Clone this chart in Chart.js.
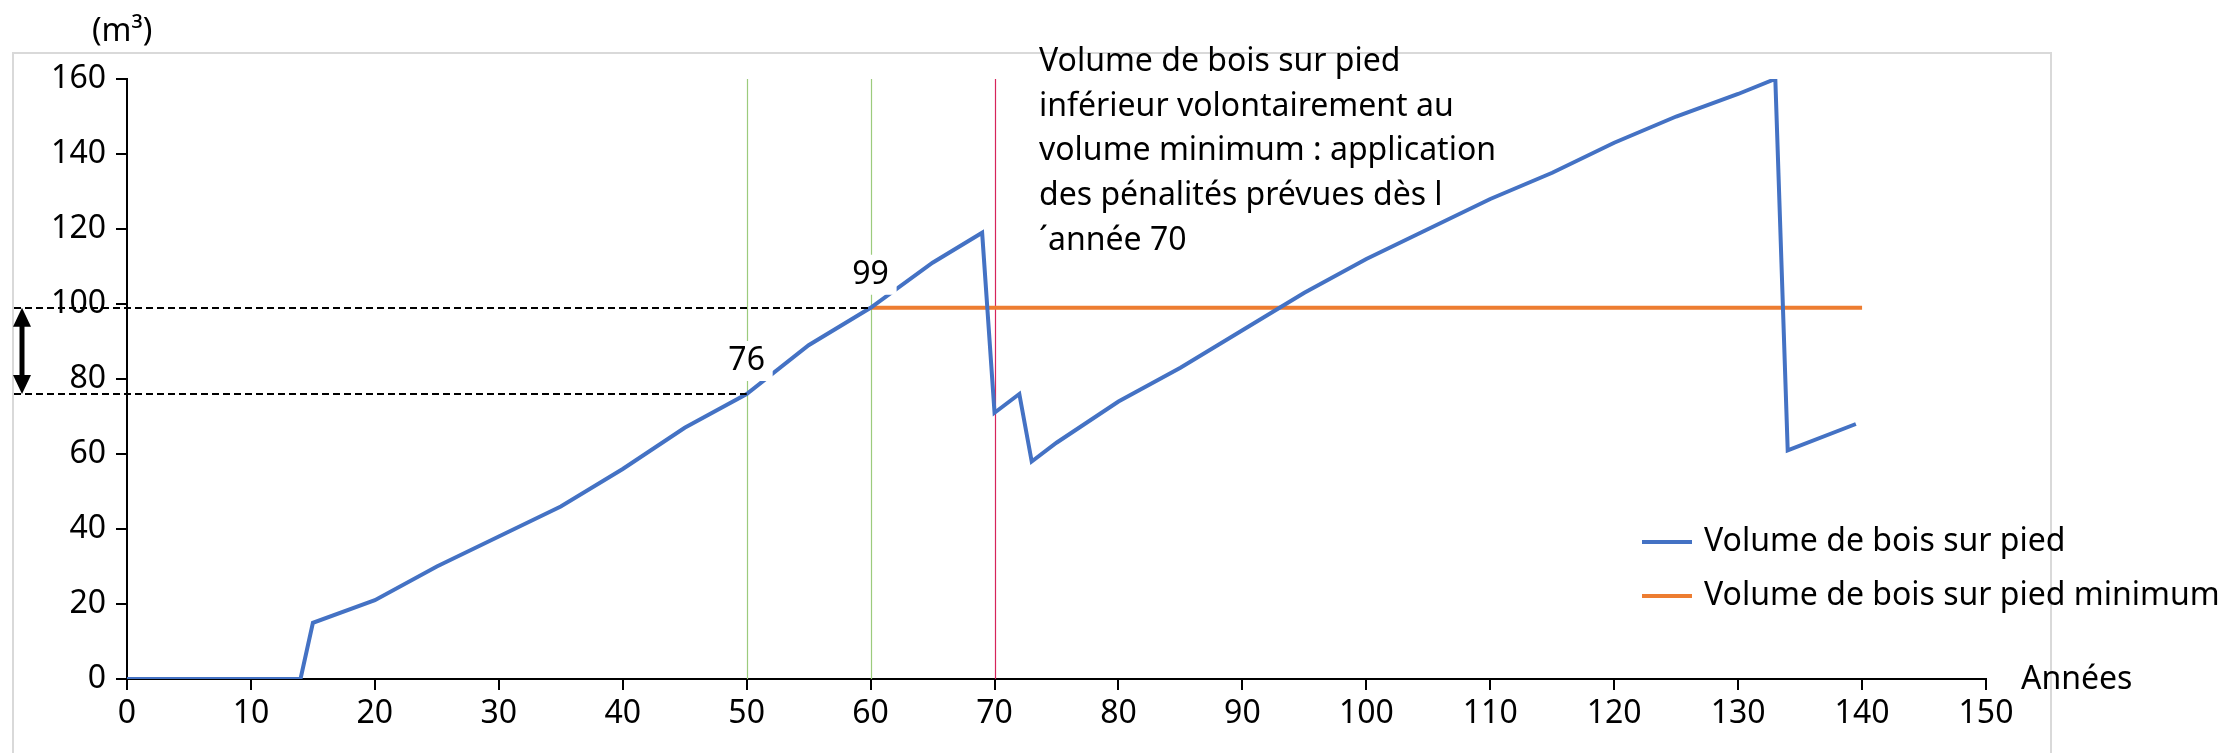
<!DOCTYPE html>
<html>
<head>
<meta charset="utf-8">
<script src="https://cdn.jsdelivr.net/npm/chart.js@4.4.0/dist/chart.umd.min.js"></script>
<style>
  html, body { margin: 0; padding: 0; background: #fff; }
  canvas { display: block; }
</style>
</head>
<body>
<canvas id="forest-graph" width="2227" height="753"></canvas>
<script>
// volume de bois sur pied (m3) by year
const years = [0, 14, 15, 20, 25, 30, 35, 40, 45, 50, 55, 60, 65, 69, 70, 72, 73, 75, 80, 85, 90, 95, 100, 105, 110, 115, 120, 125, 130, 133, 134, 139.5];
const volume = [0, 0, 15, 21, 30, 38, 46, 56, 67, 76, 89, 99, 111, 119, 71, 76, 58, 63, 74, 83, 93, 103, 112, 120, 128, 135, 143, 150, 156, 160, 61, 68];

// minimum volume, from year 60 onwards
const minYears = [60, 140];
const minVolume = [99, 99];

const xTicks = [0, 150, 10];
const yTicks = [0, 160, 20];

const markYears = [50, 60];   // green lines + labels
const penaltyYear = 70;       // red line

const seriesNames = ['Volume de bois sur pied', 'Volume de bois sur pied minimum'];
const noteLines = [
  'Volume de bois sur pied',
  'inférieur volontairement au',
  'volume minimum : application',
  'des pénalités prévues dès l',
  '\u00B4année 70'
];

const FONT = '"Noto Sans", sans-serif';
const fontSize = 32;

const toPoints = (xs, ys) => xs.map((x, i) => ({ x: x, y: ys[i] }));
const valueAt = (yr) => volume[years.indexOf(yr)];

const extras = {
  id: 'extras',
  beforeDraw(chart) {
    const ctx = chart.ctx;
    ctx.save();
    ctx.strokeStyle = '#D9D9D9';
    ctx.lineWidth = 2;
    ctx.strokeRect(13, 53, 2038, 760);
    ctx.restore();
  },
  beforeDatasetsDraw(chart) {
    const ctx = chart.ctx;
    const xs = chart.scales.x;
    const area = chart.chartArea;
    ctx.save();
    ctx.lineWidth = 1.2;
    markYears.forEach(yr => {
      const px = Math.round(xs.getPixelForValue(yr)) + 0.5;
      ctx.strokeStyle = '#9CCB7C';
      ctx.beginPath();
      ctx.moveTo(px, area.top);
      ctx.lineTo(px, area.bottom);
      ctx.stroke();
    });
    const rx = Math.round(xs.getPixelForValue(penaltyYear)) + 0.5;
    ctx.strokeStyle = '#D6245A';
    ctx.beginPath();
    ctx.moveTo(rx, area.top);
    ctx.lineTo(rx, area.bottom);
    ctx.stroke();
    ctx.restore();
  },
  afterDatasetsDraw(chart) {
    const ctx = chart.ctx;
    const xs = chart.scales.x;
    const ys = chart.scales.y;
    const area = chart.chartArea;
    ctx.save();

    // dashed guides
    ctx.strokeStyle = '#000';
    ctx.lineWidth = 2;
    ctx.setLineDash([7, 4]);
    markYears.forEach(yr => {
      const py = Math.round(ys.getPixelForValue(valueAt(yr)));
      ctx.beginPath();
      ctx.moveTo(14, py);
      ctx.lineTo(xs.getPixelForValue(yr), py);
      ctx.stroke();
    });
    ctx.setLineDash([]);

    // double arrow
    const ax = 22;
    const yTop = ys.getPixelForValue(valueAt(markYears[1]));
    const yBot = ys.getPixelForValue(valueAt(markYears[0]));
    ctx.fillStyle = '#000';
    ctx.lineWidth = 5;
    ctx.beginPath();
    ctx.moveTo(ax, yTop + 16);
    ctx.lineTo(ax, yBot - 16);
    ctx.stroke();
    ctx.beginPath();
    ctx.moveTo(ax, yTop);
    ctx.lineTo(ax - 9, yTop + 19);
    ctx.lineTo(ax + 9, yTop + 19);
    ctx.closePath();
    ctx.fill();
    ctx.beginPath();
    ctx.moveTo(ax, yBot);
    ctx.lineTo(ax - 9, yBot - 19);
    ctx.lineTo(ax + 9, yBot - 19);
    ctx.closePath();
    ctx.fill();

    // value labels
    ctx.font = fontSize + 'px ' + FONT;
    ctx.textAlign = 'center';
    ctx.textBaseline = 'middle';
    markYears.forEach(yr => {
      const v = valueAt(yr);
      const px = xs.getPixelForValue(yr);
      const py = ys.getPixelForValue(v) - 33;
      ctx.fillStyle = '#fff';
      ctx.fillRect(px - 26, py - 20, 52, 40);
      ctx.fillStyle = '#000';
      ctx.fillText(String(v), px, py);
    });

    // note
    ctx.textAlign = 'left';
    noteLines.forEach((line, i) => {
      ctx.fillText(line, 1039, 62 + i * 44.6);
    });

    // legend
    chart.data.datasets.forEach((ds, i) => {
      const ly = 542 + i * 54;
      ctx.strokeStyle = ds.borderColor;
      ctx.lineWidth = 4;
      ctx.beginPath();
      ctx.moveTo(1642, ly);
      ctx.lineTo(1692, ly);
      ctx.stroke();
      ctx.fillStyle = '#000';
      ctx.fillText(ds.label, 1704, ly);
    });

    // axis titles
    ctx.fillText('Années', 2021, area.bottom + 1);
    ctx.fillText('(m³)', 92, 32);
    ctx.restore();
  }
};

const ctx = document.querySelector('#forest-graph');

const forestChart = new Chart(ctx, {
  type: 'line',
  data: {
    datasets: [{
      label: seriesNames[0],
      data: toPoints(years, volume),
      borderColor: '#4472C4',
      borderWidth: 4,
      pointRadius: 0,
      tension: 0
    }, {
      label: seriesNames[1],
      data: toPoints(minYears, minVolume),
      borderColor: '#ED7D31',
      borderWidth: 4,
      pointRadius: 0,
      tension: 0
    }]
  },
  options: {
    responsive: false,
    animation: false,
    devicePixelRatio: 1,
    layout: {
      padding: { left: 27, top: 79, right: 241, bottom: 0 }
    },
    scales: {
      x: {
        type: 'linear',
        min: xTicks[0],
        max: xTicks[1],
        afterFit: (s) => { s.height = 74; },
        ticks: { stepSize: xTicks[2], color: '#000', font: { family: FONT, size: fontSize }, padding: 5, maxRotation: 0 },
        grid: { drawOnChartArea: false, drawTicks: true, tickLength: 11, color: '#000', lineWidth: 2 },
        border: { color: '#000', width: 2 }
      },
      y: {
        min: yTicks[0],
        max: yTicks[1],
        afterFit: (s) => { s.width = 100; },
        ticks: { stepSize: yTicks[2], color: '#000', font: { family: FONT, size: fontSize }, padding: 10 },
        grid: { drawOnChartArea: false, drawTicks: true, tickLength: 11, color: '#000', lineWidth: 2 },
        border: { color: '#000', width: 2 }
      }
    },
    plugins: {
      legend: { display: false },
      tooltip: { enabled: false }
    }
  },
  plugins: [extras]
});
</script>
</body>
</html>
